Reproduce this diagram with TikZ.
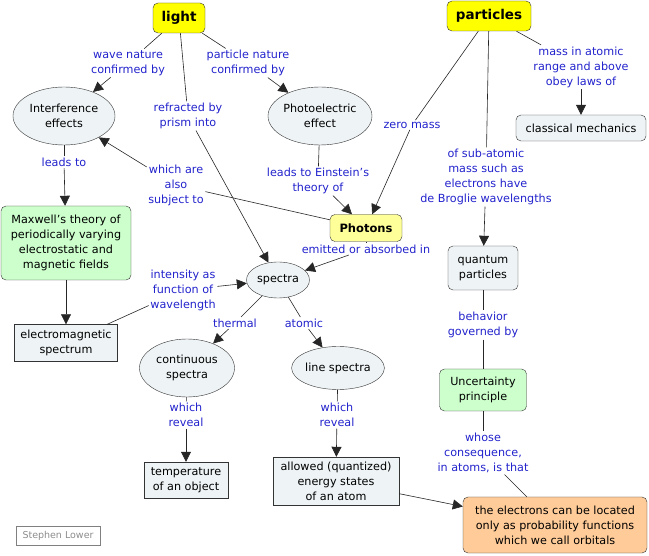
\documentclass[tikz,border=0pt]{standalone}
\usepackage{fontspec}
\setmainfont{DejaVu Sans}
\usetikzlibrary{shapes.geometric,arrows.meta}
\definecolor{boxgray}{HTML}{EEF3F5}
\definecolor{topyellow}{HTML}{FFFF00}
\definecolor{paleyellow}{HTML}{FFFF99}
\definecolor{palegreen}{HTML}{CCFFCC}
\definecolor{paleorange}{HTML}{FFCC99}
\definecolor{linkblue}{HTML}{2222CC}
\tikzset{
  cbox/.style={draw=black!80, fill=boxgray, rounded corners=5pt, align=center, inner sep=0pt},
  sbox/.style={draw=black!80, fill=boxgray, align=center, inner sep=0pt},
  oval/.style={ellipse, draw=black!80, fill=boxgray, align=center, inner sep=0pt},
  lab/.style={text=linkblue, align=center, inner sep=1.5pt},
  link/.style={draw=black!85, line width=0.6pt},
  arr/.style={link, -{Triangle[length=10pt,width=10pt]}},
}
\begin{document}
\begin{tikzpicture}[x=1pt, y=-1pt, font=\fontsize{11.2}{15}\selectfont]
  \useasboundingbox (0,0) rectangle (649,556);

  %concepts
  \node[cbox, fill=topyellow, minimum width=52pt, minimum height=30pt, font=\fontsize{13.5}{15}\selectfont\bfseries] (light) at (179,18) {light};
  \node[cbox, fill=topyellow, minimum width=84pt, minimum height=30pt, font=\fontsize{13.5}{15}\selectfont\bfseries] (particles) at (489,16) {particles};
  \node[oval, minimum width=102pt, minimum height=58pt] (interf) at (64,116) {Interference\\effects};
  \node[oval, minimum width=104pt, minimum height=58pt] (photo) at (320,116) {Photoelectric\\effect};
  \node[cbox, minimum width=130pt, minimum height=26pt] (classic) at (581,128) {classical mechanics};
  \node[cbox, fill=paleyellow, minimum width=72pt, minimum height=27pt, font=\fontsize{11.5}{15}\selectfont\bfseries] (photons) at (366,228) {Photons};
  \node[cbox, fill=palegreen, minimum width=130pt, minimum height=74pt] (maxwell) at (66,243) {Maxwell's theory of\\periodically varying\\electrostatic and\\magnetic fields};
  \node[oval, minimum width=63pt, minimum height=36pt] (spectra) at (278,280) {spectra};
  \node[cbox, minimum width=70pt, minimum height=44pt] (quantum) at (483,268) {quantum\\particles};
  \node[sbox, minimum width=103pt, minimum height=37pt] (emspec) at (66,343) {electromagnetic\\spectrum};
  \node[oval, minimum width=95pt, minimum height=58pt] (contin) at (187,368) {continuous\\spectra};
  \node[oval, minimum width=89pt, minimum height=43pt] (linesp) at (338,368) {line spectra};
  \node[cbox, fill=palegreen, minimum width=87pt, minimum height=42pt] (uncert) at (483,390) {Uncertainty\\principle};
  \node[sbox, minimum width=84pt, minimum height=36pt] (temp) at (186,480) {temperature\\of an object};
  \node[sbox, minimum width=126pt, minimum height=48pt] (allowed) at (336,481) {allowed (quantized)\\energy states\\of an atom};
  \node[cbox, fill=paleorange, minimum width=184pt, minimum height=56pt] (electrons) at (555,525) {the electrons can be located\\only as probability functions\\which we call orbitals};
  \node[draw=black!50, text=black!45, minimum width=84pt, minimum height=19pt, inner sep=0pt, font=\fontsize{9.5}{11}\selectfont] (lower) at (58,536) {Stephen Lower};

  %link labels
  \node[lab] (lwave) at (128,63) {wave nature\\confirmed by};
  \node[lab] (lpart) at (248,63) {particle nature\\confirmed by};
  \node[lab] (lrefr) at (188,116) {refracted by\\prism into};
  \node[lab] (lleads) at (64,162) {leads to};
  \node[lab] (leins) at (318,181) {leads to Einstein's\\theory of};
  \node[lab] (lalso) at (176,185) {which are\\also\\subject to};
  \node[lab] (lemit) at (366,249) {emitted or absorbed in};
  \node[lab] (lzero) at (412,125) {zero mass};
  \node[lab] (lsub) at (486,177) {of sub-atomic\\mass such as\\electrons have\\de Broglie wavelengths};
  \node[lab] (lmass) at (581,67) {mass in atomic\\range and above\\obey laws of};
  \node[lab] (lint) at (183,290) {intensity as\\function of\\wavelength};
  \node[lab] (ltherm) at (235,323) {thermal};
  \node[lab] (latom) at (304,323) {atomic};
  \node[lab] (lrev1) at (186,415) {which\\reveal};
  \node[lab] (lrev2) at (337,415) {which\\reveal};
  \node[lab] (lbeh) at (483,325) {behavior\\governed by};
  \node[lab] (lwhose) at (483,453) {whose\\consequence,\\in atoms, is that};

  %links
  \draw[link] (light) -- (lwave);
  \draw[arr] (lwave) -- (interf);
  \draw[link] (light) -- (lpart);
  \draw[arr] (lpart) -- (photo);
  \draw[link] (light) -- (lrefr);
  \draw[arr] (lrefr) -- (spectra);
  \draw[link] (interf) -- (lleads);
  \draw[arr] (lleads) -- (maxwell);
  \draw[link] (photo) -- (leins);
  \draw[arr] (leins) -- (photons);
  \draw[link] (photons) -- (lalso);
  \draw[arr] (lalso) -- (interf);
  \draw[link] (photons) -- (lemit);
  \draw[arr] (lemit) -- (spectra);
  \draw[link] (particles) -- (lzero);
  \draw[arr] (lzero) -- (photons);
  \draw[link] (particles) -- (lsub);
  \draw[arr] (lsub) -- (quantum);
  \draw[link] (particles) -- (lmass);
  \draw[arr] (lmass) -- (classic);
  \draw[arr] (maxwell) -- (emspec);
  \draw[link] (emspec) -- (lint);
  \draw[arr] (lint) -- (spectra);
  \draw[link] (spectra) -- (ltherm);
  \draw[arr] (ltherm) -- (contin);
  \draw[link] (spectra) -- (latom);
  \draw[arr] (latom) -- (linesp);
  \draw[link] (contin) -- (lrev1);
  \draw[arr] (lrev1) -- (temp);
  \draw[link] (linesp) -- (lrev2);
  \draw[arr] (lrev2) -- (allowed);
  \draw[link] (quantum) -- (lbeh);
  \draw[link] (lbeh) -- (uncert);
  \draw[link] (uncert) -- (lwhose);
  \draw[link] (lwhose) -- (electrons);
  \draw[arr] (allowed) -- (electrons);
\end{tikzpicture}
\end{document}
